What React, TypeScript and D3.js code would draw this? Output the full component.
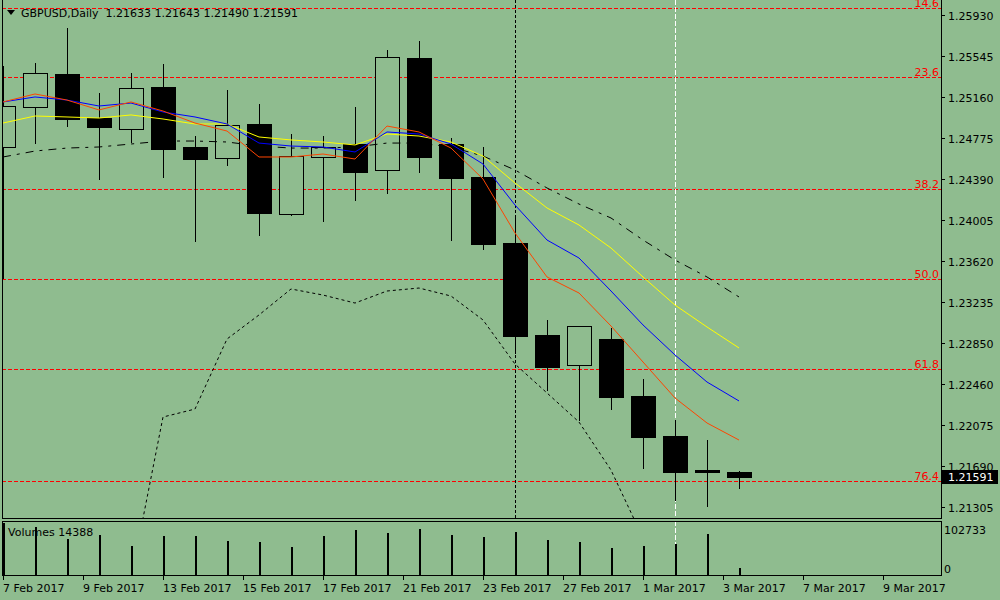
import React from "react";
import * as d3 from "d3";

const W = 1000;
const H = 600;

const symbol = "GBPUSD";
const period = "Daily";

// OHLC per daily bar (index 0 = leftmost, partly hidden)
const opens = [1.2469, 1.25066, 1.25376, 1.24962, 1.24859, 1.25254, 1.2469, 1.24587, 1.24906, 1.24061, 1.24596, 1.24718, 1.24474, 1.25526, 1.24718, 1.24408, 1.23788, 1.22924, 1.22642, 1.22886, 1.22351, 1.21975, 1.21655, 1.21633];
const highs = [1.25451, 1.25479, 1.25808, 1.25197, 1.25385, 1.2547, 1.24793, 1.25225, 1.25094, 1.24812, 1.24793, 1.25066, 1.25601, 1.25686, 1.24775, 1.2469, 1.24032, 1.23065, 1.23009, 1.2299, 1.22511, 1.22125, 1.21938, 1.21643];
const lows = [1.23459, 1.24728, 1.24887, 1.24389, 1.24737, 1.24408, 1.23807, 1.24521, 1.23863, 1.24051, 1.23995, 1.24192, 1.24258, 1.24455, 1.23816, 1.23732, 1.22755, 1.22407, 1.22125, 1.22229, 1.21675, 1.21374, 1.21318, 1.2149];
const closes = [1.25075, 1.25385, 1.24953, 1.24878, 1.25244, 1.24671, 1.24577, 1.24897, 1.2407, 1.24605, 1.2469, 1.24455, 1.25535, 1.24596, 1.24399, 1.23779, 1.22915, 1.22623, 1.23009, 1.22342, 1.21966, 1.21637, 1.21633, 1.21591];
const volumes = [102733, 94830, 71120, 79020, 57290, 77050, 77050, 67170, 65190, 55320, 77050, 88900, 82980, 90880, 79020, 75070, 84950, 69150, 65190, 53340, 57290, 61240, 81000, 14388];

// Moving averages
const maBlue = [1.25113, 1.2516, 1.25131, 1.25075, 1.25103, 1.25019, 1.24972, 1.24906, 1.24727, 1.24699, 1.2469, 1.24643, 1.24831, 1.24812, 1.24718, 1.2453, 1.24145, 1.23816, 1.23647, 1.23337, 1.23018, 1.22736, 1.22482, 1.22304];
const maRed = [1.25113, 1.25188, 1.25131, 1.25038, 1.25113, 1.25028, 1.24915, 1.2484, 1.24596, 1.24596, 1.24624, 1.24577, 1.24887, 1.24831, 1.2468, 1.24389, 1.23882, 1.23469, 1.23318, 1.23008, 1.2267, 1.22332, 1.22097, 1.21937];
const maYellow = [1.24915, 1.24981, 1.24972, 1.24962, 1.24991, 1.24953, 1.24906, 1.24906, 1.24784, 1.24756, 1.24737, 1.24709, 1.24812, 1.24793, 1.24737, 1.24605, 1.24352, 1.24117, 1.23957, 1.23741, 1.23469, 1.23205, 1.22999, 1.22802];
const maLong = [1.24596, 1.24652, 1.2468, 1.2469, 1.24718, 1.24746, 1.24746, 1.24737, 1.24699, 1.2468, 1.2468, 1.2469, 1.24727, 1.24727, 1.2469, 1.24605, 1.24474, 1.24305, 1.24154, 1.24023, 1.23816, 1.23628, 1.23469, 1.23281];
const lowerLineStart = 4;
const lowerLine = [1.20631, 1.22153, 1.22228, 1.22886, 1.23112, 1.23356, 1.23299, 1.23224, 1.23337, 1.23365, 1.2329, 1.23065, 1.22651, 1.22379, 1.22106, 1.21655, 1.21016];

// Axes
const priceTicks = [1.2593, 1.25545, 1.2516, 1.24775, 1.2439, 1.24005, 1.2362, 1.23235, 1.2285, 1.2246, 1.22075, 1.2169, 1.21305];
const dateLabels = ["7 Feb 2017", "9 Feb 2017", "13 Feb 2017", "15 Feb 2017", "17 Feb 2017", "21 Feb 2017", "23 Feb 2017", "27 Feb 2017", "1 Mar 2017", "3 Mar 2017", "7 Mar 2017", "9 Mar 2017"];
const dateIndex = [0, 2.5, 5, 7.5, 10, 12.5, 15, 17.5, 20, 22.5, 25, 27.5];

// Fibonacci retracement
const fibHigh = 1.2704;
const fibLow = 1.1986;
const fibLevels = [14.6, 23.6, 38.2, 50.0, 61.8, 76.4];

// Vertical markers
const separatorIndex = 16;
const crosshairIndex = 21;

const BG = "#8fbc8f";
const FONT = "DejaVu Sans, Verdana, sans-serif";

export default function App() {
  const x = d3.scaleLinear().domain([0, 1]).range([3, 35]);
  const y = d3.scaleLinear().domain([1.21305, 1.2593]).range([507.3, 15]);
  const yv = d3.scaleLinear().domain([0, d3.max(volumes) as number]).range([575, 523]);

  const mainLeft = 2, mainRight = 941, mainTop = 0, mainBottom = 518;
  const volTop = 521, volBottom = 575;

  const line = (arr: number[], start = 0) =>
    d3.line<number>().x((_, i) => x(i + start)).y((d) => y(d))(arr) || "";

  const n = closes.length;
  const last = n - 1;
  const header = `${symbol},${period}  ${opens[last].toFixed(5)} ${highs[last].toFixed(5)} ${lows[last].toFixed(5)} ${closes[last].toFixed(5)}`;

  return (
    <div style={{ position: "fixed", left: 0, top: 0, width: W, height: H }}>
      <svg width={W} height={H} style={{ display: "block" }} fontFamily={FONT}>
        <defs>
          <clipPath id="mainClip">
            <rect x={mainLeft} y={mainTop} width={mainRight - mainLeft} height={mainBottom - mainTop} />
          </clipPath>
          <clipPath id="volClip">
            <rect x={mainLeft} y={volTop} width={mainRight - mainLeft} height={volBottom - volTop} />
          </clipPath>
        </defs>
        <rect x={0} y={0} width={W} height={H} fill={BG} />

        <g clipPath="url(#mainClip)">
          {/* Fibonacci levels */}
          {fibLevels.map((lv) => {
            const p = fibHigh - (lv / 100) * (fibHigh - fibLow);
            const yy = Math.round(y(p)) + 0.5;
            return (
              <g key={lv}>
                <line x1={mainLeft} x2={mainRight} y1={yy} y2={yy} stroke="#ff0000" strokeDasharray="4,2" shapeRendering="crispEdges" />
                <text x={939} y={yy - 2} fill="#ff0000" fontSize={11} textAnchor="end">
                  {lv.toFixed(1)}
                </text>
              </g>
            );
          })}

          {/* vertical markers */}
          <line x1={x(separatorIndex) + 0.5} x2={x(separatorIndex) + 0.5} y1={mainTop} y2={mainBottom} stroke="#000" strokeDasharray="3,2" shapeRendering="crispEdges" />
          <line x1={x(crosshairIndex) + 0.5} x2={x(crosshairIndex) + 0.5} y1={mainTop} y2={mainBottom} stroke="#ffffff" strokeDasharray="5,2" shapeRendering="crispEdges" />

          {/* candles */}
          {closes.map((c, i) => {
            const o = opens[i];
            const cx = x(i);
            const top = Math.round(y(Math.max(o, c))) + 0.5;
            const bot = Math.round(y(Math.min(o, c))) + 0.5;
            const bull = c >= o;
            return (
              <g key={i} shapeRendering="crispEdges">
                <line x1={cx + 0.5} x2={cx + 0.5} y1={Math.round(y(highs[i]))} y2={Math.round(y(lows[i])) + 1} stroke="#000" />
                <rect x={cx - 11.5} y={top} width={24} height={Math.max(bot - top, 1)} fill={bull ? BG : "#000"} stroke="#000" />
              </g>
            );
          })}

          {/* indicator lines */}
          <path d={line(lowerLine, lowerLineStart)} fill="none" stroke="#000" strokeDasharray="3,3" />
          <path d={line(maLong)} fill="none" stroke="#000" strokeDasharray="8,6,3,6" />
          <path d={line(maYellow)} fill="none" stroke="#ffff00" />
          <path d={line(maBlue)} fill="none" stroke="#0000ff" />
          <path d={line(maRed)} fill="none" stroke="#ff4500" />
        </g>

        {/* header */}
        <polygon points="7,10 15,10 11,15" fill="#000" />
        <text x={21} y={17} fontSize={11} fill="#000" style={{ whiteSpace: "pre" }}>
          {header}
        </text>

        {/* main panel frame */}
        <g shapeRendering="crispEdges">
          <line x1={mainLeft + 0.5} x2={mainLeft + 0.5} y1={mainTop} y2={mainBottom + 1} stroke="#000" />
          <line x1={mainRight + 0.5} x2={mainRight + 0.5} y1={mainTop} y2={mainBottom + 1} stroke="#000" />
          <line x1={mainLeft} x2={mainRight + 1} y1={mainBottom + 0.5} y2={mainBottom + 0.5} stroke="#000" />
        </g>

        {/* price axis */}
        {priceTicks.map((p) => {
          const yy = Math.round(y(p)) + 0.5;
          return (
            <g key={p}>
              <line x1={mainRight + 1} x2={mainRight + 4} y1={yy} y2={yy} stroke="#000" shapeRendering="crispEdges" />
              <text x={948} y={yy + 4} fontSize={11} fill="#000">
                {p.toFixed(5)}
              </text>
            </g>
          );
        })}
        {/* current price label */}
        <rect x={942} y={Math.round(y(closes[last])) - 7} width={56} height={14} fill="#000" />
        <text x={948} y={Math.round(y(closes[last])) + 4} fontSize={11} fill="#fff">
          {closes[last].toFixed(5)}
        </text>

        {/* volume panel */}
        <g clipPath="url(#volClip)">
          <line x1={x(crosshairIndex) + 0.5} x2={x(crosshairIndex) + 0.5} y1={volTop} y2={volBottom} stroke="#ffffff" strokeDasharray="5,2" shapeRendering="crispEdges" />
          {volumes.map((v, i) => (
            <rect key={i} x={x(i) - 0.5} y={yv(v)} width={2} height={volBottom - yv(v)} fill="#000" shapeRendering="crispEdges" />
          ))}
        </g>
        <rect x={mainLeft + 0.5} y={volTop + 0.5} width={mainRight - mainLeft} height={volBottom - volTop} fill="none" stroke="#000" shapeRendering="crispEdges" />
        <text x={8} y={536} fontSize={11} fill="#000">{`Volumes ${volumes[last]}`}</text>
        <text x={944} y={534} fontSize={11} fill="#000">{d3.max(volumes)}</text>
        <text x={944} y={573} fontSize={11} fill="#000">0</text>

        {/* time axis */}
        {dateIndex.map((di, k) => {
          const xx = Math.round(x(di)) + 0.5;
          return (
            <g key={k}>
              <line x1={xx} x2={xx} y1={volBottom + 1} y2={volBottom + 5} stroke="#000" shapeRendering="crispEdges" />
              <text x={xx - 0.5} y={592} fontSize={11} fill="#000">
                {dateLabels[k]}
              </text>
            </g>
          );
        })}
      </svg>
    </div>
  );
}
